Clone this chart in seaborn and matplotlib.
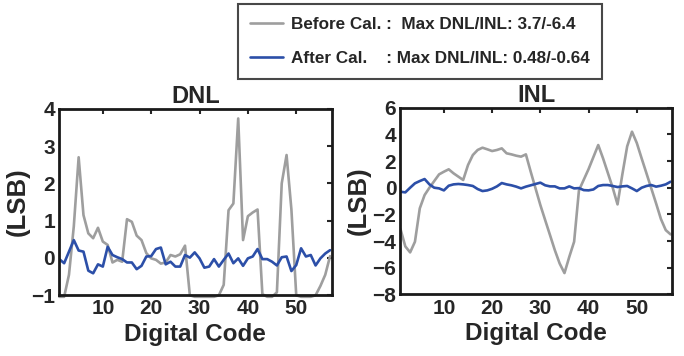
import numpy as np
import pandas as pd
import matplotlib
matplotlib.use("Agg")
import matplotlib.pyplot as plt
import seaborn as sns

codes = list(range(1, 58))

dnl_before = [-1.04, -1.04, -0.45, 0.85, 2.7, 1.15, 0.66, 0.53, 0.81, 0.44,
              0.35, -0.12, -0.05, -0.1, 1.04, 0.97, 0.6, 0.48, 0.13, -0.01,
              -0.05, -0.15, -0.12, 0.08, 0.04, 0.1, 0.33, -1.0, -1.04, -1.04,
              -1.04, -1.04, -1.04, -1.0, -0.72, 1.28, 1.46, 3.74, 0.48, 1.12,
              1.22, 1.3, -0.97, -1.04, -1.04, -0.92, 2.0, 2.76, 1.3, -1.0,
              -1.04, -1.04, -1.04, -1.0, -0.75, -0.45, 0.05]
dnl_after = [-0.03, -0.14, 0.17, 0.48, 0.2, 0.17, -0.34, -0.41, -0.17, -0.23,
             0.3, 0.08, 0.02, -0.03, -0.12, -0.12, -0.3, -0.21, 0.04, 0.05,
             0.24, 0.28, -0.17, -0.1, -0.23, -0.23, 0.08, 0.01, 0.15, -0.01,
             -0.26, -0.23, -0.03, -0.23, -0.05, 0.12, -0.14, -0.01, -0.21, -0.01,
             0.04, 0.24, -0.03, -0.03, -0.1, -0.2, 0.02, 0.04, -0.35, -0.19,
             0.26, 0.04, 0.08, -0.2, -0.01, 0.12, 0.21]
inl_before = [-3.1, -4.4, -4.85, -4.05, -1.55, -0.55, 0.0, 0.5, 1.0, 1.2,
              1.38, 1.08, 0.83, 0.58, 1.7, 2.45, 2.83, 3.0, 2.88, 2.75,
              2.83, 2.95, 2.58, 2.5, 2.4, 2.33, 2.5, 1.2, -0.05, -1.3,
              -2.43, -3.55, -4.68, -5.68, -6.4, -5.18, -4.05, -0.2, 0.6, 1.4,
              2.3, 3.2, 2.2, 1.1, 0.0, -1.25, 1.0, 3.1, 4.2, 3.35,
              2.2, 1.08, -0.05, -1.18, -2.35, -3.18, -3.5]
inl_after = [-0.3, -0.35, 0.0, 0.33, 0.5, 0.65, 0.25, 0.0, -0.05, -0.2,
             0.15, 0.25, 0.28, 0.25, 0.2, 0.13, -0.1, -0.25, -0.2, -0.08,
             0.1, 0.35, 0.25, 0.18, 0.08, -0.05, 0.08, 0.18, 0.28, 0.38,
             0.18, 0.1, 0.1, -0.05, -0.05, 0.1, -0.05, -0.03, -0.18, -0.2,
             -0.13, 0.13, 0.2, 0.2, 0.13, 0.05, 0.1, 0.13, -0.05, -0.25,
             0.0, 0.13, 0.2, 0.08, 0.15, 0.25, 0.45]

labels = ["Before Cal. :  Max DNL/INL: 3.7/-6.4",
          "After Cal.    : Max DNL/INL: 0.48/-0.64"]
titles = ["DNL", "INL"]
xticks = [10, 20, 30, 40, 50]
dnl_yticks = [-1, 0, 1, 2, 3, 4]
inl_yticks = [-8, -6, -4, -2, 0, 2, 4, 6]

sns.set_style("white")
plt.rcParams["font.family"] = ["Liberation Sans", "DejaVu Sans"]
plt.rcParams["font.weight"] = "bold"

GRAY = "#9e9e9e"
BLUE = "#2c4fa8"

fig = plt.figure(figsize=(6.84, 3.56), dpi=100)
ax1 = fig.add_axes([0.0867, 0.1705, 0.398, 0.524])
ax2 = fig.add_axes([0.5855, 0.173, 0.397, 0.5245])

def draw(ax, before, after, yticks, title, clip_before, ylpad):
    sns.lineplot(x=codes, y=before, ax=ax, color=GRAY, lw=1.9, label=labels[0])
    sns.lineplot(x=codes, y=after, ax=ax, color=BLUE, lw=1.9, label=labels[1])
    if not clip_before:
        ax.lines[0].set_clip_on(False)
    ax.set_xlim(1, 57.3)
    ax.set_ylim(yticks[0], yticks[-1])
    ax.set_xticks(xticks)
    ax.set_yticks(yticks)
    ax.set_title(title, fontsize=17, fontweight="bold", pad=4)
    ax.set_xlabel("Digital Code", fontsize=17.5, fontweight="bold", labelpad=3)
    ax.set_ylabel("(LSB)", fontsize=18.5, fontweight="bold", labelpad=ylpad)
    ax.tick_params(direction="in", top=True, right=True, length=3.5, width=1.5,
                   labelsize=15, pad=3)
    for lab in ax.get_xticklabels() + ax.get_yticklabels():
        lab.set_fontweight("bold")
    for s in ax.spines.values():
        s.set_visible(True)
        s.set_linewidth(2.0)
        s.set_color("#1a1a1a")
    ax.get_legend().remove()

draw(ax1, dnl_before, dnl_after, dnl_yticks, titles[0], clip_before=False, ylpad=1)
draw(ax2, inl_before, inl_after, inl_yticks, titles[1], clip_before=True, ylpad=1)

handles = ax1.lines[:2]
leg = fig.legend(handles, labels, loc="upper center", bbox_to_anchor=(0.614, 0.997),
                 frameon=True, fancybox=False, edgecolor="#1a1a1a",
                 prop={"weight": "bold", "size": 12.3}, handlelength=1.95,
                 handletextpad=0.45, borderpad=0.72, labelspacing=1.15,
                 borderaxespad=0.2)
leg.get_frame().set_linewidth(1.5)

fig.savefig("out.png", dpi=100)
